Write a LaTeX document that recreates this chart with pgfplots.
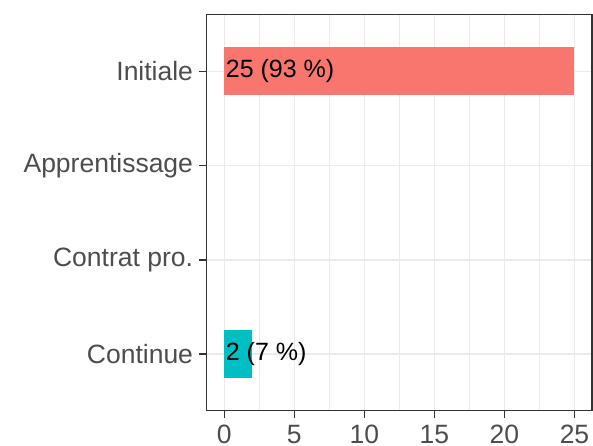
\documentclass[border=0pt]{standalone}
\usepackage{fontspec}
\setmainfont{Liberation Sans}
\usepackage{pgfplots}
\pgfplotsset{compat=1.18}
\definecolor{barred}{HTML}{F8766D}
\definecolor{barcyan}{HTML}{00BFC4}
\definecolor{gridc}{HTML}{EBEBEB}
\definecolor{framec}{HTML}{333333}
\definecolor{tickc}{HTML}{4D4D4D}
\begin{document}
\begin{tikzpicture}
\useasboundingbox (-206.7pt,-34.3pt) rectangle (386.3pt,410.7pt);
\begin{axis}[
  at={(0,0)}, anchor=south west,
  scale only axis, width=385.3pt, height=396pt,
  xmin=-1.25, xmax=26.25, ymin=0.4, ymax=4.6,
  xtick={0,5,...,25}, minor xtick={2.5,7.5,...,22.5},
  ytick={1,2,3,4},
  yticklabels={Continue,Contrat pro.,Apprentissage,Initiale},
  xmajorgrids, ymajorgrids, xminorgrids,
  major grid style={gridc, line width=1.4pt},
  minor grid style={gridc, line width=0.7pt},
  axis line style={framec, line width=1.4pt},
  tick style={framec, line width=1.4pt},
  tick align=outside, major tick length=7.5pt, minor tick length=0pt,
  tick pos=left,
  ticklabel style={font=\fontsize{26.5}{30}\selectfont, text=tickc},
  yticklabel style={inner sep=0pt, xshift=-6pt},
  xticklabel style={inner sep=0pt, yshift=-7pt},
  /pgf/number format/assume math mode=true,
]
\addplot[xbar, bar width=48pt, bar shift=0pt, fill=barred, draw=none] coordinates {(25,4)};
\addplot[xbar, bar width=48pt, bar shift=0pt, fill=barcyan, draw=none] coordinates {(2,1)};
\node[anchor=west, inner sep=0pt, xshift=1.5pt, font=\fontsize{25}{30}\selectfont] at (axis cs:0,4) {25 (93 \%)};
\node[anchor=west, inner sep=0pt, xshift=1.5pt, font=\fontsize{25}{30}\selectfont] at (axis cs:0,1) {2 (7 \%)};
\end{axis}
\end{tikzpicture}
\end{document}
